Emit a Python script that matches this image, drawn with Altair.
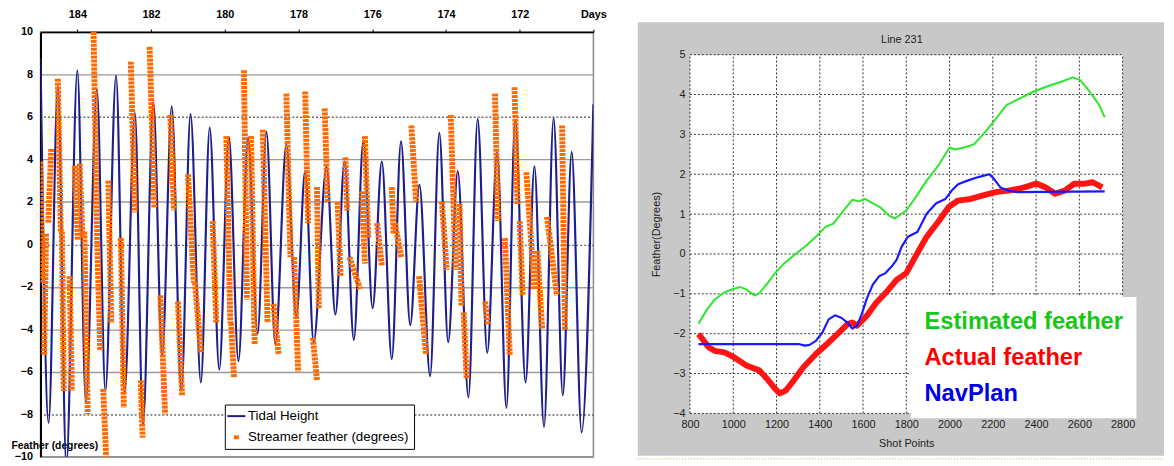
import altair as alt
import pandas as pd

# ---------------- Left chart: tidal height & streamer feather vs days ----------------
day_ticks = [184, 182, 180, 178, 176, 174, 172, 170]
left_y_ticks = [-10, -8, -6, -4, -2, 0, 2, 4, 6, 8, 10]

tide_day = [185.0, 184.78, 184.53, 184.30, 184.00, 183.77, 183.47, 183.24, 182.95, 182.72,
            182.44, 182.22, 181.94, 181.70, 181.44, 181.18, 180.93, 180.65, 180.41, 180.15,
            179.89, 179.63, 179.37, 179.11, 178.87, 178.63, 178.33, 178.06, 177.82, 177.59,
            177.24, 177.00, 176.75, 176.50, 176.24, 175.99, 175.74, 175.47, 175.22, 174.97,
            174.72, 174.43, 174.18, 173.94, 173.68, 173.39, 173.14, 172.88, 172.61, 172.36,
            172.12, 171.84, 171.60, 171.34, 171.08, 170.83, 170.59, 170.32, 170.0]
tide_height = [8.75, -8.4, 7.45, -10.4, 8.2, -7.4, 7.3, -6.9, 7.95, -7.0,
               6.2, -8.5, 6.7, -5.2, 6.5, -6.9, 6.15, -6.5, 5.5, -5.9,
               5.07, -5.5, 5.0, -4.2, 5.3, -4.7, 4.7, -3.4, 3.45, -4.6,
               3.65, -3.3, 3.9, -4.5, 4.9, -3.0, 3.9, -5.4, 4.85, -3.8,
               2.8, -6.2, 5.25, -4.6, 3.45, -7.2, 5.9, -5.1, 4.35, -7.7,
               5.87, -6.5, 3.67, -8.6, 5.95, -7.1, 4.36, -8.85, 6.6]

# streamer feather clusters: start (day, value) -> end (day, value)
feather_day_start = [185.01, 184.71, 184.85, 184.53, 184.42, 184.21, 184.07, 183.94, 183.81, 183.56,
                     183.46, 183.30, 183.16, 182.82, 182.55, 182.28, 182.04, 181.75, 181.48, 181.27,
                     181.00, 180.81, 180.33, 179.96, 179.83, 179.48, 179.29, 178.97, 178.68, 178.33,
                     178.12, 177.82, 177.61, 177.50, 177.29, 176.94, 176.73, 176.62, 176.28, 176.20,
                     175.87, 175.47, 175.39, 174.94, 174.73, 174.11, 173.87, 173.63, 173.52, 172.94,
                     172.67, 172.40, 172.14, 172.00, 171.82, 171.52, 171.26, 170.85]
feather_val_start = [3.9, 4.5, 0.5, 7.8, 0.6, -1.5, 3.7, 3.8, 0.6, 10.0,
                     0.0, -6.8, 3.0, 0.3, 8.6, -6.4, 9.3, -2.4, 6.1, -2.7,
                     3.3, -1.8, 1.1, 5.1, -3.7, 8.2, 5.1, 5.4, -2.8, 7.1,
                     -0.6, 7.2, -4.4, 2.7, 6.4, 2.0, 4.1, -0.6, 2.5, 5.1,
                     1.0, 2.7, 1.0, 5.6, -1.5, 2.0, 6.1, 1.9, -3.2, -2.7,
                     7.1, 0.3, 7.4, 1.1, 3.4, -0.3, 1.3, 5.6]
feather_day_end = [184.95, 184.79, 184.90, 184.45, 184.37, 184.15, 183.99, 183.86, 183.72, 183.46,
                   183.38, 183.22, 183.08, 182.74, 182.44, 182.23, 181.91, 181.62, 181.38, 181.16,
                   180.84, 180.65, 180.23, 179.85, 179.75, 179.40, 179.19, 178.84, 178.54, 178.22,
                   178.01, 177.74, 177.50, 177.45, 177.21, 176.86, 176.68, 176.33, 176.20, 176.11,
                   175.74, 175.42, 175.21, 174.81, 174.54, 173.98, 173.74, 173.58, 173.44, 172.86,
                   172.59, 172.27, 172.06, 171.92, 171.60, 171.39, 170.99, 170.77]
feather_val_end = [-1.8, 1.0, -5.2, 0.6, -6.9, -6.9, 0.2, 0.3, -8.0, 0.0,
                   -5.0, -10.0, -3.7, -7.7, 1.5, -9.1, 1.7, -8.0, 1.6, -7.1,
                   -1.8, -5.1, -3.7, -3.7, -6.3, -2.6, -4.7, -3.7, -5.2, -0.6,
                   -6.0, 1.0, -6.4, -3.0, 2.0, -1.5, 1.6, -2.1, -0.9, 0.3,
                   -1.0, 0.5, -0.6, 2.0, -5.2, -1.2, -1.2, -2.9, -6.3, -3.8,
                   1.1, -5.2, 1.9, -2.4, -2.1, -4.0, -2.4, -4.0]

left_series = ["Tidal Height", "Streamer feather (degrees)"]
left_colors = ["#1f1f8c", "#ff6a00"]
left_y_title = "Feather (degrees)"

# ---------------- Right chart: Line 231 ----------------
right_title = ["Line 231"]
shot_ticks = [800, 1000, 1200, 1400, 1600, 1800, 2000, 2200, 2400, 2600, 2800]
deg_ticks = [-4, -3, -2, -1, 0, 1, 2, 3, 4, 5]

est_sp = [839, 879, 915, 959, 1000, 1032, 1061, 1098, 1120, 1156, 1193, 1236, 1288, 1339, 1382,
          1426, 1463, 1492, 1550, 1580, 1609, 1645, 1682, 1718, 1747, 1778, 1800, 1843, 1894,
          1952, 2000, 2025, 2068, 2112, 2155, 2199, 2264, 2314, 2387, 2459, 2517, 2568, 2604,
          2648, 2691, 2717]
est_deg = [-1.75, -1.39, -1.14, -0.96, -0.88, -0.83, -0.89, -1.04, -0.99, -0.75, -0.48, -0.23,
           0.0, 0.22, 0.43, 0.68, 0.76, 0.97, 1.36, 1.32, 1.38, 1.27, 1.16, 0.97, 0.89, 1.01,
           1.09, 1.42, 1.84, 2.25, 2.67, 2.62, 2.67, 2.75, 3.0, 3.29, 3.74, 3.87, 4.07, 4.22,
           4.32, 4.43, 4.36, 4.07, 3.74, 3.43]

act_sp = [839, 856, 886, 915, 959, 1003, 1061, 1120, 1156, 1193, 1215, 1244, 1280, 1324, 1382,
          1441, 1485, 1528, 1550, 1572, 1616, 1660, 1704, 1755, 1800, 1851, 1894, 1952, 1996,
          2039, 2097, 2155, 2213, 2271, 2314, 2358, 2401, 2445, 2488, 2532, 2575, 2619, 2662, 2706]
act_deg = [-2.01, -2.12, -2.34, -2.43, -2.47, -2.59, -2.80, -2.92, -3.13, -3.38, -3.50, -3.42,
           -3.17, -2.84, -2.51, -2.22, -1.99, -1.76, -1.72, -1.80, -1.56, -1.23, -0.98, -0.65,
           -0.48, 0.02, 0.43, 0.84, 1.18, 1.34, 1.38, 1.47, 1.55, 1.59, 1.63, 1.69, 1.77, 1.67,
           1.51, 1.59, 1.76, 1.76, 1.80, 1.67]

nav_sp = [839, 1302, 1331, 1353, 1382, 1412, 1441, 1470, 1499, 1528, 1550, 1572, 1594, 1616,
          1645, 1674, 1704, 1733, 1755, 1778, 1807, 1851, 1894, 1938, 1981, 2010, 2039, 2083,
          2126, 2155, 2184, 2206, 2235, 2271, 2314, 2717]
nav_deg = [-2.26, -2.26, -2.30, -2.28, -2.18, -1.97, -1.64, -1.54, -1.60, -1.72, -1.87, -1.80,
           -1.51, -1.14, -0.77, -0.56, -0.48, -0.31, -0.15, 0.18, 0.43, 0.55, 1.01, 1.27, 1.38,
           1.59, 1.75, 1.84, 1.92, 1.96, 2.0, 1.88, 1.67, 1.59, 1.55, 1.57]

right_series = ["Estimated feather", "Actual feather", "NavPlan"]
right_colors = ["#2ee62e", "#ff1414", "#1a1aff"]
right_label_colors = ["#14c814", "#ff0000", "#0000e6"]

FONT = "Liberation Sans"

# ================= left panel =================
tide_df = pd.DataFrame({"day": tide_day, "height": tide_height, "series": left_series[0]})
feather_df = pd.DataFrame({"d1": feather_day_start, "v1": feather_val_start,
                           "d2": feather_day_end, "v2": feather_val_end,
                           "series": left_series[1]})

x_scale_l = alt.Scale(domain=[170, 185], reverse=True, nice=False, zero=False)
y_scale_l = alt.Scale(domain=[-10, 10], nice=False, zero=False)
color_l = alt.Scale(domain=left_series, range=left_colors)

dash_test = "datum.value == 6 || datum.value == 0 || datum.value == -8"

x_axis_l = alt.Axis(orient="top", values=day_ticks,
                    labelExpr="datum.value == 170 ? 'Days' : datum.label",
                    grid=False, domainColor="black", domainWidth=1.5, tickColor="black",
                    tickSize=3, labelFont=FONT, labelFontSize=11, labelFontWeight="bold",
                    labelColor="black", labelPadding=10, labelFlush=False, title=None)
y_axis_l = alt.Axis(values=left_y_ticks, grid=True,
                    gridColor={"condition": {"test": dash_test, "value": "#6a6a6a"}, "value": "#9a9a9a"},
                    gridDash={"condition": {"test": dash_test, "value": [2, 2]}, "value": []},
                    gridWidth=1.5, domainColor="black", domainWidth=2, ticks=False,
                    labelPadding=8, labelFont=FONT, labelFontSize=11, labelFontWeight="bold",
                    labelColor="black", title=left_y_title, titleAngle=0, titleAlign="left",
                    titleBaseline="middle", titleX=-30, titleY=420, titleFont=FONT,
                    titleFontSize=10.5, titleFontWeight="bold", titleColor="black")

legend_l = alt.Legend(title=None, orient="none", legendX=187, legendY=378, direction="vertical",
                      fillColor="white", strokeColor="black", padding=5,
                      symbolType={"expr": "datum.value == 'Tidal Height' ? 'M-1.84,0H1.84' : 'M-0.3,-0.2H0.3V0.2H-0.3Z'"},
                      symbolSize=100, symbolStrokeWidth=2, symbolFillColor=left_colors[1],
                      symbolOffset=0, labelFont=FONT, labelFontSize=13.5, labelColor="black",
                      labelOffset=5, rowPadding=6.5, labelLimit=300)

tide = alt.Chart(tide_df).mark_line(interpolate="monotone", strokeWidth=2.2, clip=True).encode(
    x=alt.X("day:Q", scale=x_scale_l, axis=x_axis_l),
    y=alt.Y("height:Q", scale=y_scale_l, axis=y_axis_l),
    order=alt.Order("day:Q", sort="descending"),
    color=alt.Color("series:N", scale=color_l, legend=legend_l),
)

feather = alt.Chart(feather_df).mark_rule(strokeWidth=6, strokeDash=[3, 1], clip=True).encode(
    x=alt.X("d1:Q", scale=x_scale_l, axis=x_axis_l),
    x2="d2:Q",
    y=alt.Y("v1:Q", scale=y_scale_l, axis=y_axis_l),
    y2="v2:Q",
    color=alt.Color("series:N", scale=color_l, legend=legend_l),
)

left = alt.layer(tide, feather).properties(
    width=561, height=431,
    view=alt.ViewBackground(fill="white", stroke="#8a8a8a", strokeWidth=1.5),
)

# ================= right panel =================
x_scale_r = alt.Scale(domain=[800, 2800], nice=False, zero=False)
y_scale_r = alt.Scale(domain=[-4, 5], nice=False, zero=False, range=[387, 23])
color_r = alt.Scale(domain=right_series, range=right_colors)

label_expr = ("datum.value == '%s' ? '%s' : datum.value == '%s' ? '%s' : '%s'"
              % (right_series[0], right_label_colors[0], right_series[1], right_label_colors[1],
                 right_label_colors[2]))

legend_r = alt.Legend(title=None, orient="none", legendX=224, legendY=269, direction="vertical",
                      fillColor="white", padding=13, symbolOpacity=0, symbolSize=0,
                      labelFont=FONT, labelFontSize=24, labelFontWeight="bold",
                      labelColor={"expr": label_expr}, labelOffset={"expr": "-23"},
                      rowPadding=12.5, labelLimit=400)

x_axis_r = alt.Axis(values=shot_ticks, format="d", grid=False, domain=False, ticks=False,
                    labelFont=FONT, labelFontSize=11, labelColor="#222222", labelPadding=5.5,
                    labelFlush=False, title="Shot Points", titleFont=FONT, titleFontSize=11,
                    titleFontWeight="normal", titleColor="#222222", titlePadding=8, zindex=1)
y_axis_r = alt.Axis(values=deg_ticks, format="d", grid=False, domain=False, ticks=False,
                    labelFont=FONT, labelFontSize=11, labelColor="#222222", labelPadding=5,
                    title="Feather(Degrees)", titleFont=FONT, titleFontSize=11,
                    titleFontWeight="normal", titleColor="#222222", titlePadding=11, zindex=1)

one = pd.DataFrame({"k": [0]})

gray_bg = alt.Chart(one).mark_rect(color="#c8c8c8").encode(
    x=alt.value(-53), x2=alt.value(481), y=alt.value(-10), y2=alt.value(430))
bottom_line = alt.Chart(one).mark_rule(color="#d8cc98", strokeDash=[1, 2], strokeWidth=1.5).encode(
    x=alt.value(-53), x2=alt.value(481), y=alt.value(433))
plot_bg = alt.Chart(one).mark_rect(color="white").encode(
    x=alt.X(datum=800, type="quantitative", scale=x_scale_r), x2=alt.X2(datum=2800),
    y=alt.Y(datum=-4, type="quantitative", scale=y_scale_r), y2=alt.Y2(datum=5))
title_r = alt.Chart(pd.DataFrame({"t": right_title})).mark_text(
    font=FONT, fontSize=11, color="#222222").encode(
    text="t:N", x=alt.value(215), y=alt.value(8.5))

vgrid = alt.Chart(pd.DataFrame({"sp": shot_ticks})).mark_rule(
    color="#333333", strokeDash=[2, 2], strokeWidth=1).encode(
    x=alt.X("sp:Q", scale=x_scale_r, axis=x_axis_r),
    y=alt.Y(datum=-4, type="quantitative", scale=y_scale_r), y2=alt.Y2(datum=5))
hgrid = alt.Chart(pd.DataFrame({"deg": deg_ticks})).mark_rule(
    color="#333333", strokeDash=[2, 2], strokeWidth=1).encode(
    y=alt.Y("deg:Q", scale=y_scale_r, axis=y_axis_r),
    x=alt.X(datum=800, type="quantitative", scale=x_scale_r), x2=alt.X2(datum=2800))


def series_line(sp, deg, name, width):
    df = pd.DataFrame({"sp": sp, "deg": deg, "series": name})
    return alt.Chart(df).mark_line(strokeWidth=width, strokeJoin="round").encode(
        x=alt.X("sp:Q", scale=x_scale_r, axis=x_axis_r),
        y=alt.Y("deg:Q", scale=y_scale_r, axis=y_axis_r),
        color=alt.Color("series:N", scale=color_r, legend=legend_r),
    )


act_line = series_line(act_sp, act_deg, right_series[1], 6)
nav_line = series_line(nav_sp, nav_deg, right_series[2], 2.2)
est_line = series_line(est_sp, est_deg, right_series[0], 2)

right = alt.layer(gray_bg, bottom_line, plot_bg, vgrid, hgrid, act_line, nav_line, est_line,
                  title_r).properties(
    width=439, height=387,
    view=alt.ViewBackground(fill="transparent", stroke="transparent"),
)

chart = alt.hconcat(left, right, spacing=98, bounds="flush").resolve_scale(
    color="independent", x="independent", y="independent"
).resolve_legend(color="independent").properties(
    padding={"left": 2, "top": -4, "right": 0, "bottom": 0}
).configure(background="white")

chart.save("out.html", embed_options={"renderer": "svg", "actions": False})
